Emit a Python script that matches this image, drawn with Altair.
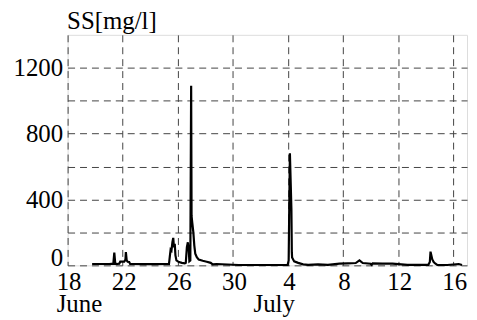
import altair as alt
import pandas as pd

# days since 18 June 00:00 and suspended solids [mg/l]
day = [1.78, 3.03, 3.32, 3.39, 3.46, 3.61, 3.75, 3.82, 4.11, 4.20, 4.23, 4.29, 4.36, 4.47, 4.54,
       5.92, 7.36, 7.43, 7.48, 7.54, 7.61, 7.67, 7.72, 7.78, 7.83, 7.90, 8.08, 8.30, 8.51, 8.58,
       8.66, 8.73, 8.80, 8.84, 8.91, 8.97, 9.00, 9.05, 9.13, 9.20, 9.27, 9.38, 9.52, 9.81, 10.10,
       10.39, 10.53, 10.82, 12.41, 13.85, 15.29, 15.98, 16.05, 16.10, 16.14, 16.25, 16.28, 16.30,
       16.45, 16.74, 17.10, 17.46, 18.18, 18.90, 19.74, 20.34, 20.92, 21.19, 21.43, 22.00, 22.07,
       22.15, 22.87, 23.59, 24.67, 26.19, 26.30, 26.35, 26.48, 26.58, 26.71, 26.84, 27.56, 28.40,
       28.64]
ss = [8, 8, 10, 77, 10, 8, 10, 22, 22, 35, 80, 30, 22, 20, 8,
      7, 8, 60, 96, 90, 140, 167, 110, 130, 60, 30, 20, 15, 12, 15,
      110, 140, 90, 25, 30, 1090, 300, 260, 200, 120, 70, 50, 35, 28, 22,
      15, 6, 8, 2, 2, 2, 3, 30, 400, 680, 338, 80, 48,
      24, 15, 6, 3, 6, 3, 10, 12, 14, 30, 14, 10, 3,
      12, 10, 10, 3, 3, 20, 83, 36, 20, 10, 3, 2, 8,
      2]

month_names = ["June", "July"]
month_days = [0, 16]

x_grid = list(range(0, 29, 2))
y_grid = [0, 200, 400, 600, 800, 1000, 1200]
y_title = "SS[mg/l]"

df = pd.DataFrame({"day": day, "ss": ss})
mdf = pd.DataFrame({"name": month_names, "day": month_days})

FONT = "Liberation Serif"
FS = 25

xscale = alt.Scale(domain=[0, 29], nice=False, zero=False)
yscale = alt.Scale(domain=[0, 1400], nice=False)

line = alt.Chart(df).mark_line(color="black", strokeWidth=2.2).encode(
    x=alt.X("day:Q", scale=xscale, axis=alt.Axis(
        values=x_grid, title=None, grid=True, ticks=False, tickSize=0, domain=False,
        labelExpr="datum.value % 4 == 0 ? (datum.value + 18 > 30 ? datum.value - 12 : datum.value + 18) : ''",
        labelFont=FONT, labelFontSize=FS, labelColor="black", labelPadding=4, labelOffset=1,
        labelFlush=False, labelOverlap=False,
        gridDash=[7, 5], gridColor="#444", gridWidth=1, gridOpacity=1)),
    y=alt.Y("ss:Q", scale=yscale, axis=alt.Axis(
        values=y_grid, title=y_title, titleAngle=0, titleAlign="left", titleBaseline="alphabetic",
        titleX=-1, titleY=-6, titleFont=FONT, titleFontSize=FS, titleFontWeight="normal",
        titleColor="black",
        grid=True, ticks=False, tickSize=0, domain=False,
        labelExpr="datum.value % 400 == 0 ? format(datum.value, 'd') : ''",
        labelBaseline=alt.ExprRef(expr="datum.value == 0 ? 'alphabetic' : 'middle'"),
        labelFont=FONT, labelFontSize=FS, labelColor="black", labelPadding=5,
        labelFlush=False, labelOverlap=False,
        gridDash=[7, 5], gridColor="#444", gridWidth=1, gridOpacity=1)),
)

june = alt.Chart(mdf[mdf["name"] == "June"]).mark_text(
    align="left", baseline="alphabetic", font=FONT, fontSize=FS, dx=-11, color="black"
).encode(x=alt.X("day:Q", scale=xscale), y=alt.value(279), text="name:N")

july = alt.Chart(mdf[mdf["name"] == "July"]).mark_text(
    align="right", baseline="alphabetic", font=FONT, fontSize=FS, dx=7, color="black"
).encode(x=alt.X("day:Q", scale=xscale), y=alt.value(279), text="name:N")

chart = alt.layer(line, june, july).properties(
    width=402, height=232,
    autosize=alt.AutoSizeParams(type="none"),
    padding={"left": 60, "top": 26, "right": 2, "bottom": 52},
).configure_view(stroke="black", strokeWidth=2).configure(background="white")

chart.save("out.html", embed_options={"renderer": "svg", "actions": False})
